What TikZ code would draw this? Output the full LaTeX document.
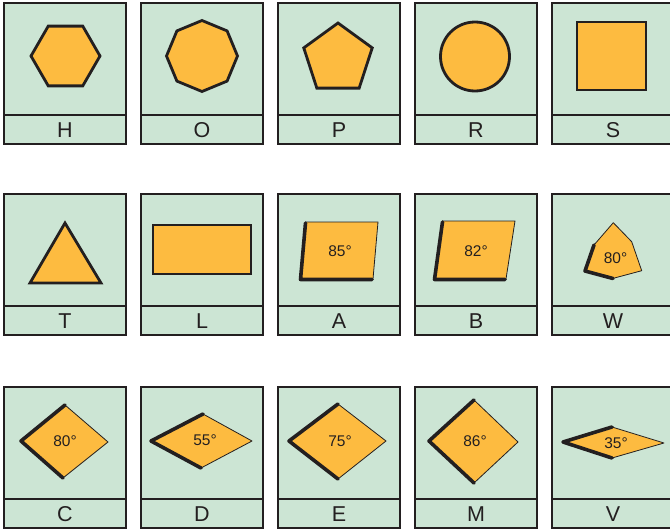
\documentclass[tikz,border=0pt]{standalone}
\usepackage{fontspec}
\setmainfont{Liberation Sans}
\definecolor{cardgreen}{HTML}{CCE5D4}
\definecolor{insertc}{HTML}{FDBB40}
\definecolor{ink}{HTML}{231F20}
\newcommand\mycard[4]{%
  \draw[card] (#2,#3) rectangle ++(122,141);
  \draw[ink,line width=2.4pt] (#2,#3+112) -- ++(122,0);
  \node[lbl] (#1) at (#2+61,#3+127) {#4};
}
\begin{document}
\begin{tikzpicture}[x=1pt,y=-1pt,
  card/.style={draw=ink,line width=2.8pt,fill=cardgreen},
  lbl/.style={font=\fontsize{21.5}{21.5}\selectfont,text=ink,inner sep=0pt,anchor=center},
  boldshape/.style={draw=ink,line width=2.8pt,fill=insertc,line join=miter},
  thinshape/.style={draw=ink,line width=0.8pt,fill=insertc,line join=round},
  thickedge/.style={draw=ink,line width=3.6pt,line cap=round,line join=round},
  deg/.style={font=\fontsize{15.5}{15.5}\selectfont,text=ink,inner sep=0pt,anchor=center}]
\useasboundingbox (0,0) rectangle (670,530);
% cards
\mycard{lH}{4}{3}{H}
\mycard{lO}{141}{3}{O}
\mycard{lP}{278}{3}{P}
\mycard{lR}{415}{3}{R}
\mycard{lS}{552}{3}{S}
\mycard{lT}{4}{194}{T}
\mycard{lL}{141}{194}{L}
\mycard{lA}{278}{194}{A}
\mycard{lB}{415}{194}{B}
\mycard{lW}{552}{194}{W}
\mycard{lC}{4}{387}{C}
\mycard{lD}{141}{387}{D}
\mycard{lE}{278}{387}{E}
\mycard{lM}{415}{387}{M}
\mycard{lV}{552}{387}{V}
% row 1
\draw[boldshape] (65.5,56) +(0:34.5) -- +(60:34.5) -- +(120:34.5) -- +(180:34.5) -- +(240:34.5) -- +(300:34.5) -- cycle;
\draw[boldshape] (202,56) +(0:35.5) -- +(45:35.5) -- +(90:35.5) -- +(135:35.5) -- +(180:35.5) -- +(225:35.5) -- +(270:35.5) -- +(315:35.5) -- cycle;
\draw[boldshape] (338,59) +(-90:36) -- +(-18:36) -- +(54:36) -- +(126:36) -- +(198:36) -- cycle;
\draw[boldshape] (475,56.5) circle (34.5);
\draw[boldshape] (577,22) rectangle (646,90);
% row 2
\draw[boldshape] (65,223) -- (101,283) -- (30,283) -- cycle;
\draw[boldshape] (153,225) rectangle (251,274);
\draw[thinshape] (306,222) -- (378,222) -- (373,279) -- (301,279) -- cycle;
\draw[thickedge] (305.5,223) -- (300.5,279.5) -- (372,279.5);
\node[deg] (dA) at (340,251) {85°};
\draw[thinshape] (443,221) -- (515,221) -- (506,279) -- (435,279) -- cycle;
\draw[thickedge] (442.5,222) -- (434.5,279.5) -- (505,279.5);
\node[deg] (dB) at (476,251) {82°};
\draw[thinshape] (613.3,222.7) -- (631.7,241.7) -- (641.7,270.7) -- (613.3,278.3) -- (585,270.7) -- (594,245) -- cycle;
\draw[thickedge] (594,245) -- (585,271) -- (613,278.5);
\node[deg] (dW) at (615.5,258) {80°};
% row 3
\draw[thinshape] (21,441) -- (65,405) -- (108,442) -- (63,478) -- cycle;
\draw[thickedge] (65,405) -- (21,441) -- (63,478);
\node[deg] (dC) at (65,441) {80°};
\draw[thinshape] (151,441) -- (203,414) -- (252,441) -- (201,468) -- cycle;
\draw[thickedge] (203,414) -- (151,441) -- (201,468);
\node[deg] (dD) at (205,440) {55°};
\draw[thinshape] (289,441) -- (338,404) -- (386,441) -- (338,479) -- cycle;
\draw[thickedge] (338,404) -- (289,441) -- (338,479);
\node[deg] (dE) at (340,441) {75°};
\draw[thinshape] (429,441) -- (474,400) -- (518,442) -- (474,483) -- cycle;
\draw[thickedge] (474,400) -- (429,441) -- (474,483);
\node[deg] (dM) at (475,441) {86°};
\draw[thinshape] (563,442) -- (612,427) -- (664,443) -- (612,458) -- cycle;
\draw[thickedge] (612,427) -- (563,442) -- (612,458);
\node[deg] (dV) at (616,443) {35°};
\end{tikzpicture}
\end{document}
